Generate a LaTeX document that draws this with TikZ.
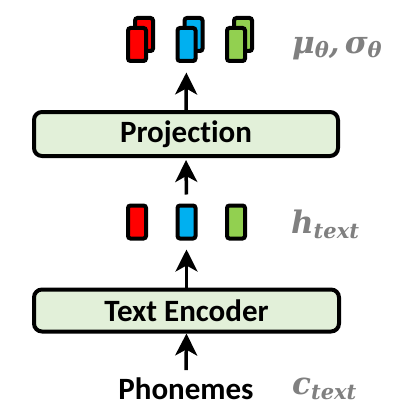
\documentclass[tikz,border=0pt]{standalone}
\usepackage{fontspec}
\setmainfont{Carlito}[Ligatures={NoCommon}]
\newfontfamily\lblfont{DejaVu Serif}
\usetikzlibrary{arrows.meta}
\definecolor{boxfill}{RGB}{226,240,217}
\definecolor{vred}{RGB}{255,0,0}
\definecolor{vblue}{RGB}{0,176,240}
\definecolor{vgreen}{RGB}{146,208,80}
\definecolor{lblgray}{RGB}{128,128,128}
\newcommand{\lblsub}[1]{\raisebox{-5pt}{\fontsize{21}{21}\selectfont #1}}
\tikzset{
  block/.style={draw=black, line width=4pt, rounded corners=8pt, fill=boxfill,
    minimum width=304pt, minimum height=44pt, inner sep=0pt,
    font=\fontsize{31}{36}\selectfont\bfseries},
  vec/.style={draw=black, line width=4pt, rounded corners=2.5pt,
    minimum width=18pt, minimum height=33pt, inner sep=0pt},
  txt/.style={font=\fontsize{31}{36}\selectfont\bfseries, inner xsep=0pt, inner ysep=7pt},
  lbl/.style={text=lblgray, font=\lblfont\bfseries\itshape\fontsize{31}{34}\selectfont, inner sep=0pt, anchor=base west},
  arr/.style={line width=3.5pt, -{Stealth[length=22pt,width=22pt,inset=6pt]}}
}
\begin{document}
\begin{tikzpicture}[x=1pt,y=-1pt]
\useasboundingbox (0,0) rectangle (406,420);
% boxes
\node[block] (proj) at (186,134) {Projec\mbox{t}ion};
\node[block, minimum width=305pt, minimum height=42pt] (enc) at (186.5,310.5) {Text Encoder};
\node[txt, anchor=base] (ph) at (186,399) {Phonemes};
% h_text vectors
\node[vec, fill=vred] (h1) at (137,222) {};
\node[vec, fill=vblue] (h2) at (186.5,222) {};
\node[vec, fill=vgreen] (h3) at (236,222) {};
% top stacked vectors
\node[vec, fill=vred] (m1b) at (144,34.5) {};
\node[vec, fill=vred] (m1) at (137,44.5) {};
\node[vec, fill=vblue] (m2b) at (193.5,34.5) {};
\node[vec, fill=vblue] (m2) at (186.5,44.5) {};
\node[vec, fill=vgreen] (m3b) at (243,34.5) {};
\node[vec, fill=vgreen] (m3) at (236,44.5) {};
% labels
\node[lbl] (mu) at (292,53) {μ\lblsub{θ},\,σ\lblsub{θ}};
\node[lbl] (ht) at (291,233) {h\lblsub{text}};
\node[lbl] (ct) at (292,394) {c\lblsub{text}};
% arrows
\draw[arr] (ph.north) -- (enc.south);
\draw[arr, shorten >=9pt] (enc.north) -- (h2.south);
\draw[arr, shorten <=9pt, shorten >=2pt] (h2.north) -- (proj.south);
\draw[arr, shorten >=9.5pt] (proj.north) -- (m2.south);
\end{tikzpicture}
\end{document}
